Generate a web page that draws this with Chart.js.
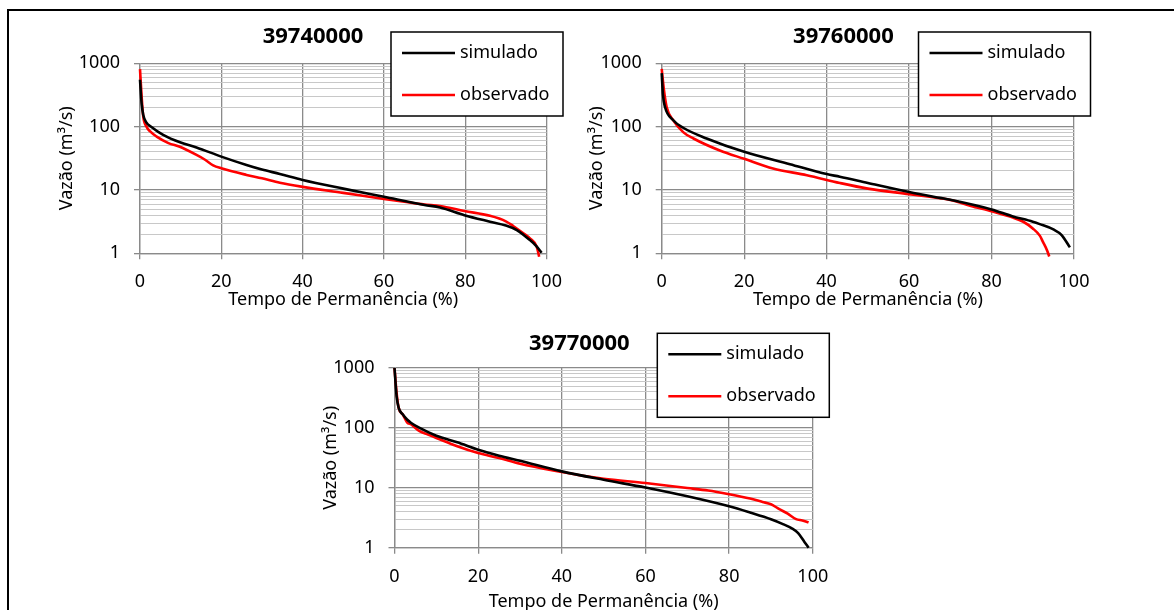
<!DOCTYPE html>
<html>
<head>
<meta charset="utf-8">
<script src="https://cdn.jsdelivr.net/npm/chart.js"></script>
<style>
  body { margin: 0; width: 1174px; height: 610px; overflow: hidden; background: #fff; position: relative; }
  .frame { position: absolute; left: 7px; top: 9px; width: 1300px; height: 700px; border-left: 2px solid #000; border-top: 2px solid #000; }
  canvas { position: absolute; }
</style>
</head>
<body>
<div class="frame"></div>
<canvas id="c1" width="570" height="300" style="left:10px;top:12px"></canvas>
<canvas id="c2" width="590" height="300" style="left:580px;top:12px"></canvas>
<canvas id="c3" width="560" height="302" style="left:300px;top:312px"></canvas>
<script>
// ---- dados ----
const yLabels = [1, 10, 100, 1000];
const xTicks = [0, 20, 40, 60, 80, 100];
const seriesNames = ['simulado', 'observado'];

// 39740000
const perm1Sim = [0, 0.4, 0.8, 1.5, 2.9, 5.7, 10, 13.9, 20, 26.2, 30, 34.4, 40, 50, 60, 70, 73.8, 79.8, 86.1, 90, 92.7, 95.9, 97.5, 98.8];
const q1Sim    = [550, 230, 153, 118, 98, 74, 56, 47, 33.6, 24.8, 21, 17.9, 14.4, 10.5, 7.8, 5.8, 5.3, 4.0, 3.16, 2.75, 2.33, 1.62, 1.3, 1.02];
const perm1Obs = [0, 0.4, 0.8, 1.6, 2.5, 4.1, 7, 9.8, 13.9, 16, 18, 20, 26.2, 30, 34.4, 40, 50, 60, 65, 70, 73.8, 79.8, 86.1, 90, 91.8, 94.3, 96, 97.6, 98.2];
const q1Obs    = [807, 300, 144, 100, 84, 69.6, 55, 48, 35.7, 30, 24.5, 22, 17.3, 15.3, 13, 11.2, 9.0, 7.2, 6.5, 5.9, 5.6, 4.66, 3.9, 3.2, 2.7, 2.07, 1.7, 1.27, 0.88];

// 39760000
const perm2Sim = [0, 0.3, 0.8, 2.8, 5.2, 10.9, 20, 31.1, 40, 43.2, 50, 60, 67.5, 70, 80, 85, 90, 91.7, 95, 97, 99];
const q2Sim    = [700, 320, 204, 126, 96, 65, 40, 25.5, 17.8, 16.2, 12.9, 9.3, 7.5, 7.0, 4.93, 3.86, 3.15, 2.89, 2.38, 1.94, 1.24];
const perm2Obs = [0, 0.56, 1.2, 2.8, 5.2, 7.7, 14.1, 20, 27, 35.2, 43.2, 50, 60, 67.5, 70, 75, 80, 85, 87.7, 90, 91.7, 92.5, 93.5, 94];
const q2Obs    = [815, 372, 204, 126, 82, 65, 42, 31, 21.8, 17.1, 12.9, 10.5, 8.6, 7.4, 6.95, 5.6, 4.6, 3.7, 3.15, 2.47, 1.9, 1.5, 1.1, 0.89];

// 39770000
const perm3Sim = [0, 0.5, 1, 2, 3, 4, 6, 10, 15, 20, 25, 30, 40, 50, 60, 70, 80, 85, 90, 93, 95, 96.5, 98, 99];
const q3Sim    = [1000, 339, 216, 167, 138, 121, 100, 74, 57.6, 43.3, 34.4, 28.3, 18.8, 13.6, 10.1, 7.2, 4.9, 3.86, 2.98, 2.45, 2.1, 1.75, 1.25, 1.0];
const perm3Obs = [0, 0.5, 1, 2, 3, 4, 6, 8, 10, 15, 20, 25, 30, 40, 45, 50, 60, 70, 75, 80, 85, 88, 90, 92, 94, 96, 97.5, 99];
const q3Obs    = [1000, 386, 216, 167, 124, 114, 88, 77.5, 68, 49.3, 38, 31.4, 25.2, 18.3, 15.9, 14.2, 12, 9.9, 9.0, 7.8, 6.6, 5.8, 5.3, 4.4, 3.7, 3.0, 2.85, 2.65];

// linhas de grade menores 2..9 em cada decada
const yGrid = [];
yLabels.forEach(d => {
    if (d === 1000) { yGrid.push(d); return; }
    for (let m = 1; m <= 9; m++) yGrid.push(d * m);
});

Chart.defaults.font.family = "'Noto Sans', sans-serif";
Chart.defaults.font.size = 18;
Chart.defaults.color = '#000';

const GRID = '#8a8a8a';
const MINOR = '#c8c8c8';

// legenda com moldura, desenhada por cima do grafico
const boxLegend = {
    id: 'boxLegend',
    afterDraw(chart, args, opts) {
        const ctx = chart.ctx;
        const a = chart.chartArea;
        const w = 172, h = 84;
        const left = a.right + opts.dx - w;
        const top = a.top + opts.dy;
        ctx.save();
        ctx.fillStyle = '#fff';
        ctx.fillRect(left, top, w, h);
        ctx.strokeStyle = '#000';
        ctx.lineWidth = 1.5;
        ctx.strokeRect(left, top, w, h);
        ctx.font = "18px 'Noto Sans', sans-serif";
        ctx.textBaseline = 'middle';
        chart.data.datasets.forEach((ds, i) => {
            const y = top + (i === 0 ? 21 : 63);
            ctx.strokeStyle = ds.borderColor;
            ctx.lineWidth = 2.5;
            ctx.beginPath();
            ctx.moveTo(left + 11, y);
            ctx.lineTo(left + 64, y);
            ctx.stroke();
            ctx.fillStyle = '#000';
            ctx.fillText(ds.label, left + 69, y);
        });
        ctx.restore();
    }
};

function pts(xs, ys) {
    return xs.map((x, i) => ({x: x, y: ys[i]}));
}

function makeChart(id, title, sim, obs, L) {
    const ctx = document.getElementById(id).getContext('2d');
    return new Chart(ctx, {
        type: 'line',
        data: {
            datasets: [
                {label: seriesNames[0], data: sim, borderColor: '#000', borderWidth: 2.6,
                 pointRadius: 0, cubicInterpolationMode: 'monotone', clip: 8},
                {label: seriesNames[1], data: obs, borderColor: '#ff0000', borderWidth: 2.6,
                 pointRadius: 0, cubicInterpolationMode: 'monotone', clip: 8}
            ]
        },
        options: {
            responsive: false,
            animation: false,
            layout: {padding: {left: L.pl, right: L.pr, top: L.pt, bottom: L.pb}},
            plugins: {
                legend: {display: false},
                tooltip: {enabled: false},
                title: {display: true, text: title, font: {size: 22, weight: 'bold'},
                        padding: {top: 0, bottom: L.titlePad}},
                boxLegend: {dx: 16.5, dy: L.legDy}
            },
            scales: {
                x: {
                    type: 'linear', min: 0, max: 100,
                    afterBuildTicks: s => { s.ticks = xTicks.map(v => ({value: v})); },
                    afterFit: s => { s.height = L.xH; },
                    ticks: {padding: 12},
                    grid: {color: GRID, lineWidth: 1.3, tickLength: 6},
                    border: {color: GRID, width: 1.3},
                    title: {display: true, text: 'Tempo de Permanência (%)', padding: 0}
                },
                y: {
                    type: 'logarithmic', min: 1, max: 1000,
                    afterBuildTicks: s => {
                        s.ticks = yGrid.map(v => ({value: v, major: yLabels.includes(v)}));
                    },
                    afterFit: s => { s.width = L.yW; },
                    ticks: {
                        autoSkip: false, padding: 14,
                        callback: v => yLabels.includes(v) ? String(v) : ''
                    },
                    grid: {
                        color: c => yLabels.includes(c.tick.value) ? GRID : MINOR,
                        lineWidth: c => yLabels.includes(c.tick.value) ? 1.3 : 1,
                        tickColor: c => yLabels.includes(c.tick.value) ? GRID : 'rgba(0,0,0,0)',
                        tickLength: 6
                    },
                    border: {color: GRID, width: 1.3},
                    title: {display: true, text: 'Vazão (m³/s)', padding: 0}
                },
                // eixo vazio so para deslocar o titulo
                yR: {
                    type: 'linear', position: 'right', display: true,
                    ticks: {display: false}, grid: {display: false}, border: {display: false},
                    afterFit: s => { s.width = L.rW; }
                }
            }
        },
        plugins: [boxLegend]
    });
}

makeChart('c1', '39740000', pts(perm1Sim, q1Sim), pts(perm1Obs, q1Obs),
    {pl: 46.2, pr: 10.2, pt: 11.8, pb: 1.2, titlePad: 13.1, yW: 83.8, xH: 57.5, rW: 23.3, legDy: -31.3});
makeChart('c2', '39760000', pts(perm2Sim, q2Sim), pts(perm2Obs, q2Obs),
    {pl: 6.4, pr: 69.6, pt: 11.8, pb: 1.2, titlePad: 13.1, yW: 75.3, xH: 57.5, rW: 26.4, legDy: -31.3});
makeChart('c3', '39770000', pts(perm3Sim, q3Sim), pts(perm3Obs, q3Obs),
    {pl: 20.2, pr: 21.6, pt: 18.8, pb: 1.5, titlePad: 10.8, yW: 74.3, xH: 64.8, rW: 25.6, legDy: -34.7});
</script>
</body>
</html>
